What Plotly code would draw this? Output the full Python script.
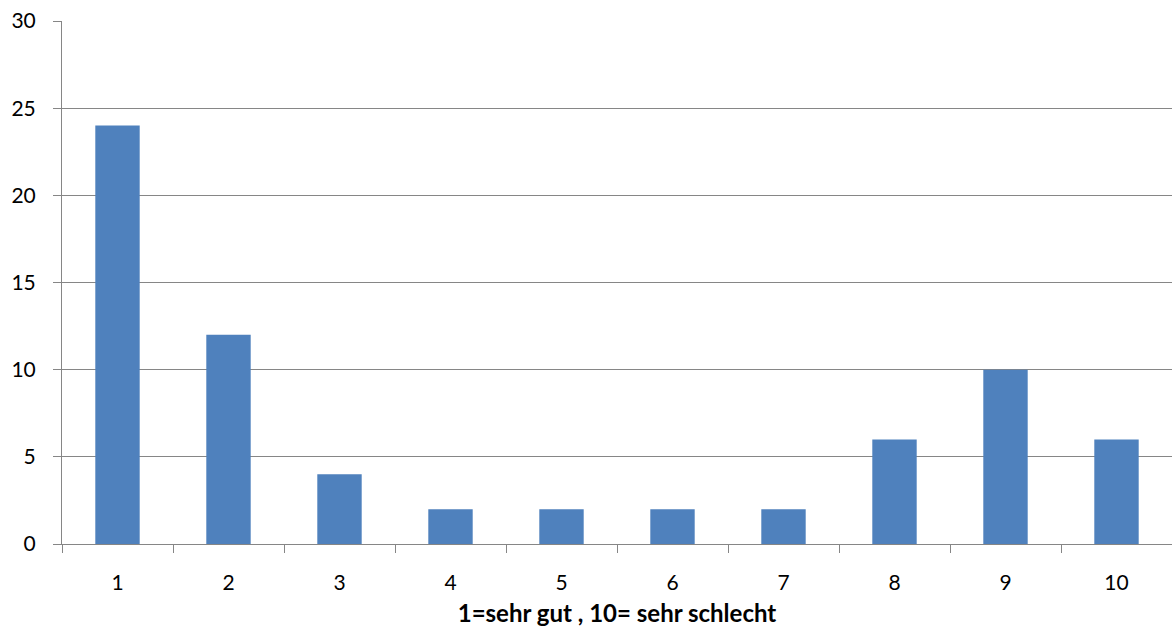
import plotly.graph_objects as go

categories = ["1", "2", "3", "4", "5", "6", "7", "8", "9", "10"]
values = [24, 12, 4, 2, 2, 2, 2, 6, 10, 6]
y_ticks = [0, 5, 10, 15, 20, 25, 30]
x_title = "1=sehr gut , 10= sehr schlecht"

fig = go.Figure(go.Bar(x=categories, y=values, marker=dict(color="#4F81BD", line=dict(width=0)), width=0.4))

fig.update_layout(
    width=1172, height=633,
    margin=dict(l=62, r=0, t=21, b=89, autoexpand=False),
    paper_bgcolor="white", plot_bgcolor="white",
    font=dict(family="Lato, Open Sans, sans-serif", size=21, color="black"),
    showlegend=False,
    bargap=0.6,
)
fig.update_xaxes(
    type="category", tickson="boundaries", ticks="outside", ticklen=8, tickcolor="#868686", tickwidth=1,
    showline=True, linecolor="#868686", linewidth=1, showgrid=False,
    ticklabelstandoff=20, automargin=False,
    title=dict(text="<b>" + x_title + "</b>", font=dict(size=24), standoff=11),
)
fig.update_yaxes(
    range=[0, 30], tickvals=y_ticks, ticks="outside", ticklen=8, tickcolor="#868686",
    showline=True, linecolor="#868686", linewidth=1,
    showgrid=True, gridcolor="#868686", gridwidth=1, zeroline=False,
    ticklabelstandoff=13, automargin=False, ticklabeloverflow="allow",
)
fig.write_html("out.html", config={"displayModeBar": False},
               post_script="document.body.style.margin='0';")
